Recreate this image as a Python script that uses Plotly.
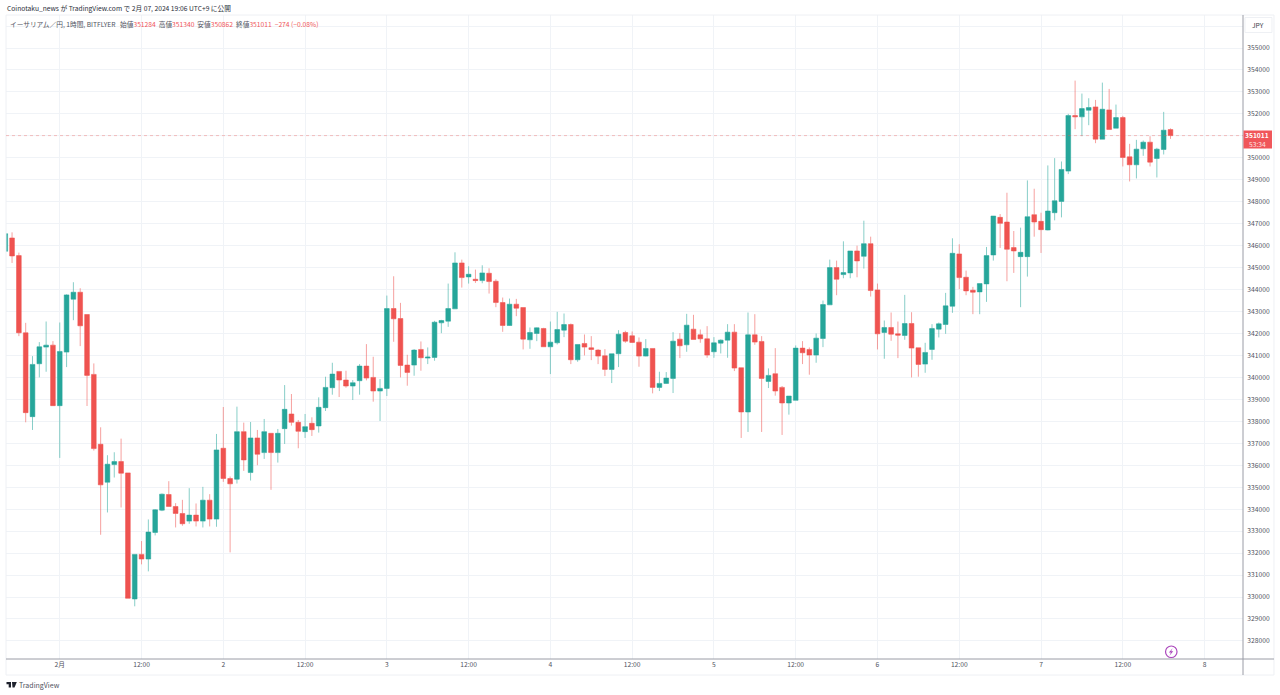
import pandas as pd
import plotly.graph_objects as go

opens = [
    345743, 346349, 345546, 342031, 338213, 340622, 341379, 341470, 338713, 341152,
    343561, 343879, 342864, 340137, 336955, 335228, 336031, 336168, 335652, 329911,
    331941, 331729, 332941, 333956, 334668, 334122, 333804, 333456, 333729, 333456,
    334410, 333547, 336774, 335395, 335365, 337531, 335668, 337243, 336577, 337455,
    336577, 337667, 338334, 337955, 337531, 337910, 337789, 338622, 339531, 340273,
    339879, 339607, 339849, 340516, 340000, 339379, 339500, 343137, 342682, 340561,
    340561, 341273, 340879, 340910, 342485, 342561, 343121, 345212, 344576, 344470,
    344409, 344743, 344379, 343409, 342364, 343334, 343182, 341713, 342000, 342228,
    341394, 341576, 342152, 342409, 340803, 341546, 341349, 341243, 340985, 340364,
    341076, 342046, 341894, 341606, 340970, 341318, 339546, 339728, 339955, 341743,
    341485, 342197, 341940, 341758, 341167, 341561, 341697, 342061, 340440, 338425,
    341940, 341637, 339819, 340167, 339546, 338834, 338955, 341334, 341273, 341016,
    341773, 343303, 345000, 344682, 344758, 345758, 345515, 346091, 343985, 342046,
    342273, 341985, 341910, 342455, 341349, 340606, 341274, 342198, 342410, 343243,
    345622, 344561, 343970, 343894, 344258, 345576, 347288, 347076, 345910, 345500,
    345500, 347409, 347106, 346713, 347500, 348015, 349394, 351924, 351864, 352167,
    352318, 350848, 352182, 351348, 351833, 350045, 349682, 350409, 350712, 349970,
    350379, 351284,
]
closes = [
    346545, 345530, 342031, 338395, 340592, 341395, 341470, 338713, 341182, 343758,
    343879, 342349, 340092, 336759, 335107, 336047, 336168, 335637, 329941, 331941,
    331729, 332956, 333971, 334683, 334122, 333804, 333335, 333729, 333456, 334410,
    333547, 336698, 335395, 335153, 337531, 336243, 337243, 336501, 337531, 336577,
    337455, 338546, 337955, 337546, 337758, 337622, 338637, 339546, 340152, 339879,
    339607, 339758, 340516, 339970, 339379, 339500, 343137, 342667, 340546, 340228,
    341243, 340894, 340925, 342515, 342591, 343137, 345212, 344546, 344697, 344409,
    344758, 344364, 343409, 342364, 343334, 343152, 341743, 342046, 342258, 341394,
    341606, 342182, 342409, 340803, 341500, 341379, 341273, 340970, 340364, 341076,
    341970, 341652, 341591, 340970, 341318, 339546, 339728, 339970, 341652, 341440,
    342379, 341728, 341758, 341016, 341576, 341697, 342061, 340425, 338425, 341940,
    341607, 339955, 340092, 339379, 338834, 339152, 341334, 341122, 341016, 341788,
    343319, 345000, 344470, 344773, 345758, 345303, 346091, 343955, 341985, 342273,
    341970, 341925, 342455, 341334, 340591, 341137, 342228, 342440, 343258, 345652,
    344546, 343940, 343879, 344273, 345546, 347349, 347015, 345834, 345758, 345697,
    347318, 347076, 346728, 347576, 348046, 349470, 351924, 351864, 352242, 352288,
    350848, 352212, 351288, 351833, 350015, 349682, 350394, 350712, 349803, 350394,
    351257, 351011,
]
highs = [
    346560, 346606, 345682, 342485, 340970, 341607, 342546, 341652, 342500, 343788,
    344334, 344061, 342864, 340637, 337728, 336456, 336592, 337213, 335652, 331941,
    332547, 333532, 334001, 334713, 335274, 334274, 334425, 334956, 334259, 335016,
    334683, 337425, 338652, 335486, 338668, 337940, 337970, 337607, 338107, 337455,
    337652, 339652, 339243, 338061, 338334, 338183, 339092, 340031, 340667, 340273,
    340304, 339879, 340607, 341516, 340940, 339925, 343727, 344606, 343394, 341031,
    341288, 341637, 341364, 342576, 342621, 344273, 345697, 345364, 345061, 344909,
    345106, 344970, 344470, 343637, 343591, 343576, 343182, 342273, 342273, 342258,
    342546, 342985, 342909, 342455, 341500, 341955, 341879, 341288, 341288, 341076,
    342152, 342122, 342091, 341818, 341743, 341318, 340258, 340243, 342061, 342015,
    342894, 342849, 342182, 342334, 341834, 341728, 342425, 342425, 340440, 342955,
    342879, 341879, 340410, 341334, 339607, 339152, 341455, 341652, 341364, 342000,
    343500, 345364, 345318, 346197, 345758, 346000, 347136, 346409, 344273, 342591,
    342955, 342546, 343758, 342970, 341349, 341576, 342425, 342500, 343849, 346334,
    346061, 344864, 344122, 344273, 345940, 347349, 347440, 348409, 346667, 346819,
    348970, 348591, 347500, 349652, 349985, 349833, 352000, 353515, 352924, 352712,
    352636, 353424, 353136, 352424, 351909, 350636, 350818, 350788, 350985, 350455,
    352091, 351340,
]
lows = [
    345730, 345212, 341879, 337955, 337607, 340001, 340258, 338713, 336334, 340470,
    342606, 341425, 338698, 336668, 332835, 333850, 335441, 334077, 329941, 329577,
    331486, 331168, 332805, 333910, 334122, 333168, 333244, 333335, 333213, 333168,
    333213, 333198, 335244, 332032, 335168, 335743, 335304, 336001, 336289, 334880,
    336122, 336970, 337804, 336773, 337243, 337334, 337486, 338470, 339213, 339107,
    339531, 338970, 339213, 339864, 338895, 338016, 339152, 341622, 340000, 339622,
    340076, 340304, 340607, 340758, 342015, 342303, 343121, 344091, 344273, 344303,
    344288, 343818, 343197, 342076, 342349, 342788, 341273, 341303, 341652, 341394,
    340152, 341500, 341834, 340606, 340712, 341000, 340788, 340606, 340061, 339743,
    340470, 341576, 341576, 340485, 340955, 339273, 339379, 339712, 339288, 340879,
    341167, 341728, 341576, 340895, 340895, 341091, 340895, 340288, 337243, 337516,
    341485, 337516, 339516, 339167, 337380, 338304, 338955, 340607, 340122, 340667,
    341379, 343303, 343743, 344515, 344515, 344561, 344955, 343682, 341273, 340849,
    341667, 340879, 341712, 340000, 340031, 340212, 340804, 341819, 341986, 342940,
    344016, 343743, 342880, 342880, 343440, 345319, 345894, 344379, 344758, 343198,
    344591, 346409, 345667, 346697, 347152, 347288, 349258, 351303, 350985, 351485,
    350667, 350848, 351288, 351348, 349606, 348924, 349061, 350091, 349606, 349106,
    350152, 350862,
]

times = pd.date_range("2024-01-31 16:00", periods=len(opens), freq="h")

# time axis labels
tick_dates = pd.date_range("2024-02-01 00:00", "2024-02-08 00:00", freq="12h")
tick_labels = ["2月", "12:00", "2", "12:00", "3", "12:00", "4", "12:00",
               "5", "12:00", "6", "12:00", "7", "12:00", "8"]

# price axis, the 356000 and 351000 labels sit behind the JPY button and price tag
price_ticks = list(range(328000, 357000, 1000))
price_labels = ["" if p in (351000, 356000) else str(p) for p in price_ticks]

last_price = 351011
UP = "#26a69a"
DOWN = "#ef5350"
GRID = "#f0f3f7"
FONT = "Noto Sans CJK JP"
TEXT_SIZE = 6.7

W, H = 1280, 695
L, R, T, B = 5.5, 1243, 15, 659


def px(x):
    return (x - L) / (R - L)


def py(y):
    return (B - y) / (B - T)


fig = go.Figure()

fig.add_trace(go.Candlestick(
    x=times,
    open=opens,
    high=highs,
    low=lows,
    close=closes,
    whiskerwidth=0,
    increasing=dict(line=dict(color="rgba(38,166,154,0.55)", width=1), fillcolor=UP),
    decreasing=dict(line=dict(color="rgba(239,83,80,0.55)", width=1), fillcolor=DOWN),
    showlegend=False,
))

# frame, scale lines and price tag
frame = "#eef0f4"
bolt = [(1172.6, 648.2), (1168.8, 652.6), (1170.9, 652.6), (1169.4, 655.8), (1173.2, 651.2), (1171.1, 651.2)]
bolt_path = "M " + " L ".join(f"{px(a)} {py(b)}" for a, b in bolt) + " Z"
shapes = [
    dict(type="line", xref="paper", yref="paper", x0=px(5.5), x1=px(1274), y0=py(15), y1=py(15), line=dict(color=frame, width=1)),
    dict(type="line", xref="paper", yref="paper", x0=px(5.5), x1=px(5.5), y0=py(15), y1=py(675), line=dict(color=frame, width=1)),
    dict(type="line", xref="paper", yref="paper", x0=px(1274), x1=px(1274), y0=py(15), y1=py(675), line=dict(color=frame, width=1)),
    dict(type="line", xref="paper", yref="paper", x0=px(5.5), x1=px(1274), y0=py(675), y1=py(675), line=dict(color=frame, width=1)),
    dict(type="line", xref="paper", yref="paper", x0=px(5.5), x1=px(1274), y0=py(659), y1=py(659), line=dict(color="#9a9ca6", width=1)),
    dict(type="line", xref="paper", yref="paper", x0=px(1243), x1=px(1243), y0=py(15), y1=py(675), line=dict(color="#9a9ca6", width=1)),
    dict(type="line", xref="paper", yref="y", x0=0, x1=1, y0=last_price, y1=last_price, line=dict(color="rgba(239,83,80,0.35)", width=1, dash="dot")),
    dict(type="rect", xref="paper", yref="paper", x0=px(1243.5), x1=px(1272), y0=py(130.5), y1=py(148.5), fillcolor="#f0565a", line=dict(width=0)),
    dict(type="rect", xref="paper", yref="paper", x0=px(1245), x1=px(1272), y0=py(17.5), y1=py(32.5), fillcolor="white", line=dict(color="#eef0f4", width=1)),
    # TradingView mark
    dict(type="path", xref="paper", yref="paper", line=dict(width=0), fillcolor="#1e222d",
         path=f"M {px(6)} {py(682)} L {px(10.5)} {py(682)} L {px(10.5)} {py(687.5)} L {px(8.2)} {py(687.5)} L {px(8.2)} {py(684.2)} L {px(6)} {py(684.2)} Z"),
    dict(type="path", xref="paper", yref="paper", line=dict(width=0), fillcolor="#1e222d",
         path=f"M {px(11.5)} {py(682)} L {px(16.3)} {py(682)} L {px(14)} {py(687.5)} L {px(12)} {py(687.5)} Z"),
    # bolt badge
    dict(type="circle", xref="paper", yref="paper", x0=px(1165.5), x1=px(1177), y0=py(646), y1=py(657.5), fillcolor="white", line=dict(color="#ab47bc", width=1.2)),
    dict(type="path", xref="paper", yref="paper", line=dict(width=0), fillcolor="#ab47bc", path=bolt_path),
]

red = "color:#f0565a"
gap = "\u00a0\u00a0"
header = (
    f"イーサリアム／円, 1時間, BITFLYER{gap}\u00a0始値"
    f"<span style='{red}'>351284</span>{gap}高値<span style='{red}'>351340</span>"
    f"{gap}安値<span style='{red}'>350862</span>{gap}終値<span style='{red}'>351011</span>"
    f"{gap}<span style='{red}'>−274 (−0.08%)</span>"
)


def note(x, y, text, size=TEXT_SIZE, color="#50535e", xanchor="left"):
    return dict(xref="paper", yref="paper", x=px(x), y=py(y), text=text, showarrow=False,
                xanchor=xanchor, yanchor="middle", borderpad=0, font=dict(size=size, color=color, family=FONT))


annotations = [
    note(5, 8, "Coinotaku_news が TradingView.com で 2月 07, 2024 19:06 UTC+9 に公開", color="#2a2e39"),
    note(9, 24, header),
    note(1258.5, 25, "JPY", xanchor="center", color="#3a3d47"),
    note(1257.5, 135.3, "<b>351011</b>", color="white", xanchor="center"),
    note(1257.5, 143.6, "53:34", color="#fde4e4", xanchor="center"),
    note(18, 685, "TradingView", size=7, color="#50535e"),
]

fig.update_layout(
    width=W,
    height=H,
    autosize=False,
    margin=dict(l=L, r=W - R, t=T, b=H - B, pad=0),
    paper_bgcolor="white",
    plot_bgcolor="white",
    font=dict(family=FONT, size=TEXT_SIZE, color="#50535e"),
    boxgap=0.17,
    boxgroupgap=0.17,
    shapes=shapes,
    annotations=annotations,
    xaxis=dict(
        type="date",
        rangeslider=dict(visible=False),
        range=["2024-01-31 16:06:36", "2024-02-08 05:38:24"],
        tickvals=tick_dates,
        ticktext=tick_labels,
        tickangle=0,
        showgrid=True,
        gridcolor=GRID,
        gridwidth=1,
        zeroline=False,
        showline=False,
        ticks="",
        automargin=False,
        tickfont=dict(size=TEXT_SIZE, color="#50535e", family=FONT),
    ),
    yaxis=dict(
        side="right",
        range=[327177, 356503],
        tickvals=price_ticks,
        ticktext=price_labels,
        showgrid=True,
        gridcolor=GRID,
        gridwidth=1,
        zeroline=False,
        showline=False,
        ticks="outside",
        ticklen=2,
        tickcolor="rgba(0,0,0,0)",
        automargin=False,
        tickfont=dict(size=TEXT_SIZE, color="#50535e", family=FONT),
    ),
)

fig.write_html("out.html", config=dict(displayModeBar=False),
               post_script="document.body.style.margin='0';document.body.style.overflow='hidden';")
